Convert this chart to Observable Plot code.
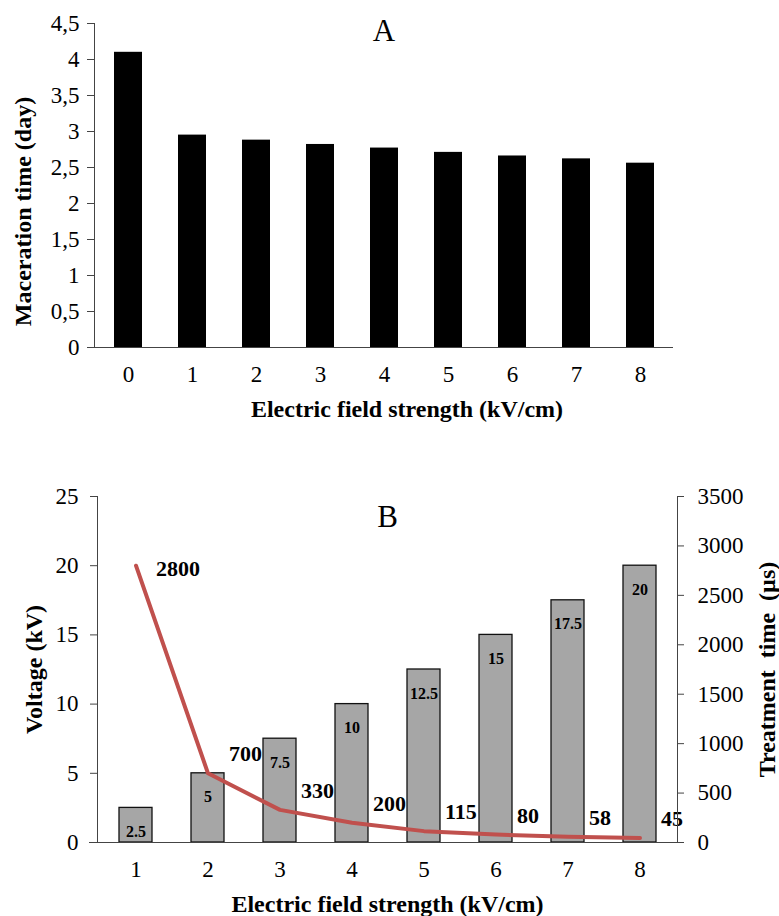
<!DOCTYPE html>
<html>
<head>
<meta charset="utf-8">
<script src="https://cdn.jsdelivr.net/npm/d3@7"></script>
<script src="https://cdn.jsdelivr.net/npm/@observablehq/plot@0.6"></script>
<style>
  html, body { margin: 0; padding: 0; background: #fff; }
  #chart { width: 779px; }
  #chart svg { display: block; }
</style>
</head>
<body>
<div id="chart"></div>
<script>
// ---- Panel A data ----
const fieldA = [0, 1, 2, 3, 4, 5, 6, 7, 8];
const macerationDays = [4.1, 2.95, 2.88, 2.82, 2.77, 2.71, 2.66, 2.62, 2.56];
const ticksA = [0, 0.5, 1, 1.5, 2, 2.5, 3, 3.5, 4, 4.5];

// ---- Panel B data ----
const fieldB = [1, 2, 3, 4, 5, 6, 7, 8];
const voltageKV = [2.5, 5, 7.5, 10, 12.5, 15, 17.5, 20];
const treatmentUs = [2800, 700, 330, 200, 115, 80, 58, 45];
const ticksVoltage = [0, 5, 10, 15, 20, 25];
const ticksTreatment = [0, 500, 1000, 1500, 2000, 2500, 3000, 3500];

// ---- Texts ----
const panelA = "A";
const panelB = "B";
const xTitle = "Electric field strength (kV/cm)";
const yTitleA = "Maceration time (day)";
const yTitleB = "Voltage (kV)";
const y2TitleB = "Treatment  time  (µs)";

const VMAX = 25, TMAX = 3500;
const toV = t => t * VMAX / TMAX;

const font = "'Liberation Serif', 'Times New Roman', serif";

const dataA = fieldA.map((f, i) => ({field: f, days: macerationDays[i]}));
const dataB = fieldB.map((f, i) => ({field: f, voltage: voltageKV[i], time: treatmentUs[i]}));

const padA = 0.565, padB = 0.545;

const plotA = Plot.plot({
  width: 779, height: 440,
  marginTop: 23, marginBottom: 93, marginLeft: 94, marginRight: 106,
  style: {fontFamily: font, fontSize: "23px", color: "#000", background: "#fff", overflow: "visible"},
  x: {type: "band", domain: fieldA, paddingInner: padA, paddingOuter: padA / 2, label: null},
  y: {domain: [0, 4.5], label: null},
  marks: [
    Plot.barY(dataA, {x: "field", y: "days", fill: "#000"}),
    Plot.frame({anchor: "left", stroke: "#444"}),
    Plot.ruleY([0], {stroke: "#444", insetLeft: -7}),
    Plot.axisY({ticks: ticksA, tickSize: 7, tickPadding: 8, stroke: "#444",
      tickFormat: d => String(d).replace(".", ","), fontSize: 23, label: null}),
    Plot.axisX({tickSize: 0, tickPadding: 18, fontSize: 23, label: null}),
    Plot.text([panelA], {frameAnchor: "top", dy: 8, fontSize: 31, lineAnchor: "middle"}),
    Plot.text([xTitle], {frameAnchor: "bottom", dx: 23, dy: 62, fontSize: 24, fontWeight: "bold", lineAnchor: "middle"}),
    Plot.text([yTitleA], {frameAnchor: "left", textAnchor: "middle", dx: -71, dy: 26, rotate: -90, fontSize: 24, fontWeight: "bold", lineAnchor: "middle"})
  ]
});

const plotB = Plot.plot({
  width: 779, height: 476,
  marginTop: 56, marginBottom: 74, marginLeft: 97, marginRight: 102,
  style: {fontFamily: font, fontSize: "23px", color: "#000", background: "#fff", overflow: "visible"},
  x: {type: "band", domain: fieldB, paddingInner: padB, paddingOuter: padB / 2, label: null},
  y: {domain: [0, VMAX], label: null},
  marks: [
    Plot.barY(dataB, {x: "field", y: "voltage", fill: "#a6a6a6", stroke: "#111", strokeWidth: 1.3}),
    Plot.text(dataB, {x: "field", y: "voltage", text: d => String(d.voltage), dy: 24, fontSize: 16, fontWeight: "bold", lineAnchor: "middle"}),
    Plot.line(dataB, {x: "field", y: d => toV(d.time), stroke: "#c0504d", strokeWidth: 4}),
    Plot.text(dataB.slice(0, 1), {x: "field", y: d => toV(d.time), text: d => String(d.time), dx: 20, dy: 3, textAnchor: "start", fontSize: 22, fontWeight: "bold", lineAnchor: "middle"}),
    Plot.text(dataB.slice(1), {x: "field", y: d => toV(d.time), text: d => String(d.time), dx: 21, dy: -19, textAnchor: "start", fontSize: 22, fontWeight: "bold", lineAnchor: "middle"}),
    Plot.frame({anchor: "left", stroke: "#444"}),
    Plot.frame({anchor: "right", stroke: "#444"}),
    Plot.ruleY([0], {stroke: "#444", insetLeft: -8, insetRight: -6}),
    Plot.axisY({ticks: ticksVoltage, tickSize: 7, tickPadding: 12, stroke: "#444", fontSize: 23, label: null}),
    Plot.axisY({anchor: "right", ticks: ticksTreatment.map(toV), tickSize: 6, tickPadding: 14, stroke: "#444",
      tickFormat: v => String(Math.round(v * TMAX / VMAX)), fontSize: 23, label: null}),
    Plot.axisX({tickSize: 0, tickPadding: 18, fontSize: 23, label: null}),
    Plot.text([panelB], {frameAnchor: "top", dy: 21, fontSize: 31, lineAnchor: "middle"}),
    Plot.text([xTitle], {frameAnchor: "bottom", dy: 62, fontSize: 24, fontWeight: "bold", lineAnchor: "middle"}),
    Plot.text([yTitleB], {frameAnchor: "left", textAnchor: "middle", dx: -63, rotate: -90, fontSize: 24, fontWeight: "bold", lineAnchor: "middle"}),
    Plot.text([y2TitleB], {frameAnchor: "right", textAnchor: "middle", dx: 90, rotate: -90, fontSize: 24, fontWeight: "bold", lineAnchor: "middle"})
  ]
});

const chart = document.getElementById("chart");
chart.appendChild(plotA);
chart.appendChild(plotB);
</script>
</body>
</html>
